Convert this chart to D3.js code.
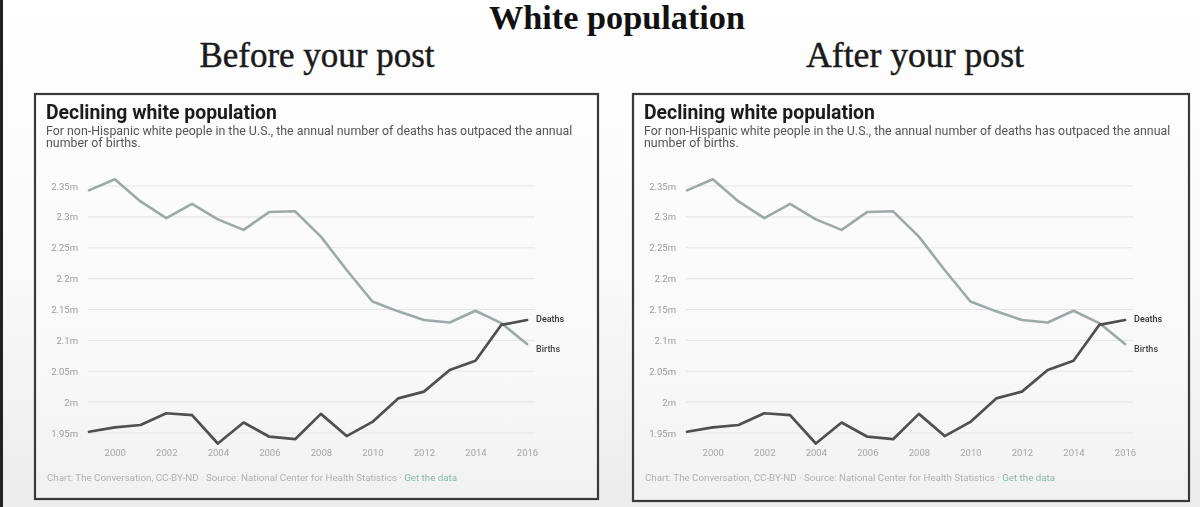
<!DOCTYPE html>
<html>
<head>
<meta charset="utf-8">
<script src="https://cdn.jsdelivr.net/npm/d3@7"></script>
<style>
  html, body { margin: 0; padding: 0; }
  body { width: 1200px; height: 507px; overflow: hidden; background: #fff; }
  svg { display: block; }
</style>
</head>
<body>
<svg id="chart" width="1200" height="507"></svg>
<script>
// ---- Data ----
const years = [1999, 2000, 2001, 2002, 2003, 2004, 2005, 2006, 2007, 2008, 2009, 2010, 2011, 2012, 2013, 2014, 2015, 2016];
const births = [2.343, 2.361, 2.325, 2.298, 2.321, 2.296, 2.279, 2.308, 2.309, 2.268, 2.214, 2.163, 2.147, 2.133, 2.129, 2.148, 2.128, 2.094];
const deaths = [1.952, 1.959, 1.963, 1.982, 1.979, 1.933, 1.967, 1.944, 1.940, 1.981, 1.945, 1.968, 2.006, 2.017, 2.052, 2.067, 2.125, 2.133];
const yTicks = [1.95, 2.0, 2.05, 2.1, 2.15, 2.2, 2.25, 2.3, 2.35];
const yTickLabels = ["1.95m", "2m", "2.05m", "2.1m", "2.15m", "2.2m", "2.25m", "2.3m", "2.35m"];
const xTicks = [2000, 2002, 2004, 2006, 2008, 2010, 2012, 2014, 2016];
const panelHeaders = ["Before your post", "After your post"];
const memeTitle = "White population";
const chartTitle = "Declining white population";
const subtitleLines = ["For non-Hispanic white people in the U.S., the annual number of deaths has outpaced the annual", "number of births."];
const sourceText = "Chart: The Conversation, CC-BY-ND · Source: National Center for Health Statistics · ";
const sourceLink = "Get the data";

const svg = d3.select("#chart");
const W = 1200, H = 507;

// background gradient (photo-like)
const defs = svg.append("defs");
const bg = defs.append("linearGradient").attr("id", "bg").attr("x1", 0).attr("y1", 0).attr("x2", 0).attr("y2", 1);
bg.append("stop").attr("offset", "0%").attr("stop-color", "#ffffff");
bg.append("stop").attr("offset", "55%").attr("stop-color", "#f9f9f9");
bg.append("stop").attr("offset", "100%").attr("stop-color", "#ececec");
const boxbg = defs.append("linearGradient").attr("id", "boxbg").attr("x1", 0).attr("y1", 0).attr("x2", 0).attr("y2", 1);
boxbg.append("stop").attr("offset", "0%").attr("stop-color", "#fdfdfd");
boxbg.append("stop").attr("offset", "70%").attr("stop-color", "#f8f8f8");
boxbg.append("stop").attr("offset", "100%").attr("stop-color", "#f1f1f1");
const blur = defs.append("filter").attr("id", "soft").attr("x", "-5%").attr("y", "-20%").attr("width", "110%").attr("height", "140%");
blur.append("feGaussianBlur").attr("stdDeviation", 0.35);

svg.append("rect").attr("width", W).attr("height", H).attr("fill", "url(#bg)");
svg.append("rect").attr("x", 0).attr("y", 0).attr("width", 3).attr("height", H).attr("fill", "#222");

function fitText(sel, target) {
  const fs = parseFloat(sel.attr("font-size"));
  const len = sel.node().getComputedTextLength();
  if (len > 0) sel.attr("font-size", (fs * target / len).toFixed(2));
  return sel;
}

// meme title (at the very top)
fitText(svg.append("text")
  .attr("x", 617).attr("y", 29).attr("text-anchor", "middle")
  .attr("font-family", "'Liberation Serif', 'DejaVu Serif', serif")
  .attr("font-weight", "bold").attr("font-size", 26).attr("fill", "#111")
  .text(memeTitle), 256);

const headerCenters = [317, 915];
panelHeaders.forEach((h, i) => {
  fitText(svg.append("text")
    .attr("x", headerCenters[i]).attr("y", 67).attr("text-anchor", "middle")
    .attr("font-family", "'Liberation Serif', 'DejaVu Serif', serif")
    .attr("font-size", 31).attr("fill", "#1a1a1a")
    .attr("stroke", "#1a1a1a").attr("stroke-width", 0.45)
    .text(h), i === 0 ? 235 : 218);
});

function drawPanel(ox, boxW, boxH) {
  const g = svg.append("g").attr("transform", `translate(${ox},0)`);
  // box
  g.append("rect").attr("x", 35).attr("y", 94).attr("width", boxW).attr("height", boxH)
    .attr("fill", "url(#boxbg)").attr("stroke", "#3a3a3a").attr("stroke-width", 2.2);

  const inner = g.append("g").attr("filter", "url(#soft)");

  // title
  fitText(inner.append("text").attr("x", 46).attr("y", 119)
    .attr("font-family", "Roboto, 'Open Sans', sans-serif").attr("font-weight", "bold")
    .attr("font-size", 17).attr("fill", "#1a1a1a").text(chartTitle), 231);

  // subtitle
  const sub1 = inner.append("text").attr("x", 46).attr("y", 135)
    .attr("font-family", "Roboto, 'Open Sans', sans-serif")
    .attr("font-size", 10).attr("fill", "#555").text(subtitleLines[0]);
  fitText(sub1, 527);
  inner.append("text").attr("x", 46).attr("y", 147)
    .attr("font-family", "Roboto, 'Open Sans', sans-serif")
    .attr("font-size", sub1.attr("font-size")).attr("fill", "#555").text(subtitleLines[1]);

  // scales
  const x = d3.scaleLinear().domain([1999, 2016]).range([89, 527]);
  const y = d3.scaleLinear().domain([1.95, 2.35]).range([433, 186]);

  // gridlines
  inner.append("g").selectAll("line").data(yTicks).join("line")
    .attr("x1", 88).attr("x2", 535)
    .attr("y1", d => y(d)).attr("y2", d => y(d))
    .attr("stroke", "#e6e6e6").attr("stroke-width", 1.2);

  // y axis (labels only)
  const yAxis = d3.axisLeft(y).tickValues(yTicks).tickSize(0).tickPadding(0)
    .tickFormat(d => yTickLabels[yTicks.indexOf(d)]);
  const ya = inner.append("g").attr("transform", "translate(78,0)").call(yAxis);
  ya.select(".domain").remove();
  ya.selectAll("text").attr("font-family", "Roboto, 'Open Sans', sans-serif")
    .attr("font-size", 9.5).attr("fill", "#9a9a9a");

  // x axis (labels only)
  const xAxis = d3.axisBottom(x).tickValues(xTicks).tickSize(0).tickPadding(0).tickFormat(d3.format("d"));
  const xa = inner.append("g").attr("transform", "translate(0,449)").call(xAxis);
  xa.select(".domain").remove();
  xa.selectAll("text").attr("font-family", "Roboto, 'Open Sans', sans-serif")
    .attr("font-size", 9.5).attr("fill", "#a5a5a5");

  const line = d3.line().x((d, i) => x(years[i])).y(d => y(d));
  inner.append("path").datum(births).attr("d", line)
    .attr("fill", "none").attr("stroke", "#9fa8a8").attr("stroke-width", 2.6)
    .attr("stroke-linejoin", "round").attr("stroke-linecap", "round");
  inner.append("path").datum(deaths).attr("d", line)
    .attr("fill", "none").attr("stroke", "#505050").attr("stroke-width", 2.7)
    .attr("stroke-linejoin", "round").attr("stroke-linecap", "round");

  // line labels
  const lastX = x(years[years.length - 1]);
  inner.append("text").attr("x", lastX + 9).attr("y", y(deaths[deaths.length - 1]) + 2)
    .attr("font-family", "Roboto, 'Open Sans', sans-serif").attr("font-size", 9)
    .attr("font-weight", 500).attr("fill", "#333").text("Deaths");
  inner.append("text").attr("x", lastX + 9).attr("y", y(births[births.length - 1]) + 8)
    .attr("font-family", "Roboto, 'Open Sans', sans-serif").attr("font-size", 9)
    .attr("font-weight", 500).attr("fill", "#444").text("Births");

  // source
  const src = inner.append("text").attr("x", 47).attr("y", 481)
    .attr("font-family", "Roboto, 'Open Sans', sans-serif").attr("font-size", 8.5);
  src.append("tspan").attr("fill", "#b0b0b0").text(sourceText);
  src.append("tspan").attr("fill", "#86b8a8").text(sourceLink);
  fitText(src, 410);
}

drawPanel(0, 563, 405);
drawPanel(598, 556, 407);
</script>
</body>
</html>
